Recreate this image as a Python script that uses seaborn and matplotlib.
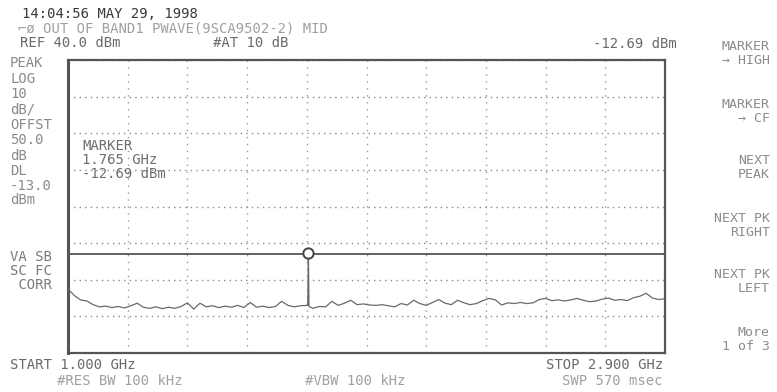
import numpy as np
import pandas as pd
import matplotlib
matplotlib.use("Agg")
import matplotlib.pyplot as plt
import seaborn as sns

# Sweep settings
start_ghz = 1.0
stop_ghz = 2.9
ref_dbm = 40.0
db_per_div = 10.0
display_line_dbm = -13.0

# Marker readout
marker_ghz = 1.765
marker_dbm = -12.69

# Trace levels (dBm), one per 20 MHz step from START to STOP
trace_dbm = [
    -22.5, -24.3, -25.5, -25.8, -26.8, -27.4, -27.2, -27.6, -27.3, -27.7,
    -27.1, -26.4, -27.5, -27.8, -27.4, -27.9, -27.5, -27.8, -27.3, -26.3,
    -28.0, -26.4, -27.4, -27.1, -27.6, -27.2, -27.5, -27.0, -27.6, -26.2,
    -27.5, -27.2, -27.6, -27.3, -25.9, -27.0, -27.4, -27.1, -27.0, -27.8,
    -27.3, -27.4, -25.9, -27.0, -26.4, -25.6, -26.8, -26.6, -26.9, -27.0,
    -26.8, -27.1, -27.4, -26.5, -26.9, -25.6, -26.5, -27.0, -26.2, -25.4,
    -26.4, -26.8, -25.6, -26.3, -26.8, -26.5, -25.7, -25.1, -25.5, -26.9,
    -26.3, -26.5, -26.2, -26.5, -26.3, -25.4, -25.1, -25.7, -25.5, -25.8,
    -25.5, -25.1, -25.6, -26.0, -25.8, -25.3, -25.0, -25.6, -25.4, -25.7,
    -24.9, -24.5, -23.7, -25.0, -25.4, -25.2,
]
# Narrow carrier spike around the marker frequency
spike_ghz = [1.763, marker_ghz, 1.767]
spike_dbm = [-27.0, marker_dbm, -27.3]

# Header / annotation strings
title_time = "14:04:56 MAY 29, 1998"
title_desc = "\u2310\u00f8 OUT OF BAND1 PWAVE(9SCA9502-2) MID"
ref_text = "REF 40.0 dBm"
atten_text = "#AT 10 dB"
readout_text = "-12.69 dBm"
left_panel = ["PEAK", "LOG", "10", "dB/", "OFFST", "50.0", "dB", "DL", "-13.0", "dBm"]
corr_panel = ["VA SB", "SC FC", " CORR"]
marker_box = ["MARKER", "1.765 GHz", "-12.69 dBm"]
softkeys = [("MARKER", "\u2192 HIGH"), ("MARKER", "\u2192 CF"), ("NEXT", "PEAK"),
            ("NEXT PK", "RIGHT"), ("NEXT PK", "LEFT"), ("More", "1 of 3")]
start_text = "START 1.000 GHz"
stop_text = "STOP 2.900 GHz"
rbw_text = "#RES BW 100 kHz"
vbw_text = "#VBW 100 kHz"
swp_text = "SWP 570 msec"

# Assemble trace table
freqs = np.linspace(start_ghz, stop_ghz, len(trace_dbm))
df = pd.DataFrame({"freq": np.concatenate([freqs, spike_ghz]),
                   "level": np.concatenate([trace_dbm, spike_dbm])})
df = df.sort_values("freq").reset_index(drop=True)

sns.set_style("white")
plt.rcParams["font.family"] = ["DejaVu Sans Mono", "DejaVu Sans"]

W, H = 777, 392
fig = plt.figure(figsize=(W / 100, H / 100), dpi=100)
L, R, T, B = 68, 665, 60, 353
ax = fig.add_axes([L / W, (H - B) / H, (R - L) / W, (B - T) / H])

ax.set_xlim(start_ghz, stop_ghz)
ax.set_ylim(ref_dbm - 8 * db_per_div, ref_dbm)
ax.set_xticks(np.linspace(start_ghz, stop_ghz, 11))
ax.set_yticks(np.arange(ref_dbm - 8 * db_per_div, ref_dbm + 1, db_per_div))
ax.tick_params(length=0, labelbottom=False, labelleft=False)
ax.xaxis.grid(True, color="#9a9a9a", linestyle=(0, (1, 4)), linewidth=1.0)
ax.yaxis.grid(True, color="#8a8a8a", linestyle=(0, (1, 3)), linewidth=1.0)
ax.set_axisbelow(True)
for s in ax.spines.values():
    s.set_color("#555555")
    s.set_linewidth(1.6)
ax.spines["left"].set_linewidth(2.2)

# Display line
ax.axhline(display_line_dbm, color="#555555", linewidth=1.3, zorder=2)

# Trace
sns.lineplot(data=df, x="freq", y="level", ax=ax, color="#6a6a6a",
             linewidth=0.9, estimator=None, sort=False, zorder=3)
# Marker
sns.scatterplot(x=[marker_ghz], y=[marker_dbm], ax=ax, s=55, marker="o",
                facecolor="white", edgecolor="#444444", linewidth=1.4, zorder=4)
ax.set_xlabel("")
ax.set_ylabel("")


def put(x, y, s, color="#777777", ha="left", size=10):
    fig.text(x / W, 1 - y / H, s, ha=ha, va="center", color=color, fontsize=size)


put(22, 14, title_time, color="#3a3a3a")
put(18, 29, title_desc, color="#a0a0a0")
put(20, 43, ref_text, color="#6a6a6a")
put(213, 43, atten_text, color="#6a6a6a")
put(677, 44, readout_text, color="#6a6a6a", ha="right")

left_y = [63, 79, 94, 110, 125, 140, 156, 171, 186, 200]
for y, s in zip(left_y, left_panel):
    put(10, y, s, color="#8a8a8a")
for y, s in zip([257, 271, 285], corr_panel):
    put(10, y, s, color="#7a7a7a")

for y, s in zip([146, 160, 174], marker_box):
    put(82, y, s, color="#6e6e6e")

soft_y = [(46, 60), (105, 119), (161, 175), (218, 232), (275, 289), (332, 346)]
for (y1, y2), (a, b) in zip(soft_y, softkeys):
    put(770, y1, a, color="#8c8c8c", ha="right", size=9.5)
    put(770, y2, b, color="#8c8c8c", ha="right", size=9.5)

put(10, 365, start_text, color="#6a6a6a")
put(57, 381, rbw_text, color="#a0a0a0")
put(305, 381, vbw_text, color="#a0a0a0")
put(663, 365, stop_text, color="#6a6a6a", ha="right")
put(663, 381, swp_text, color="#a0a0a0", ha="right")

fig.savefig("out.png", dpi=100)
